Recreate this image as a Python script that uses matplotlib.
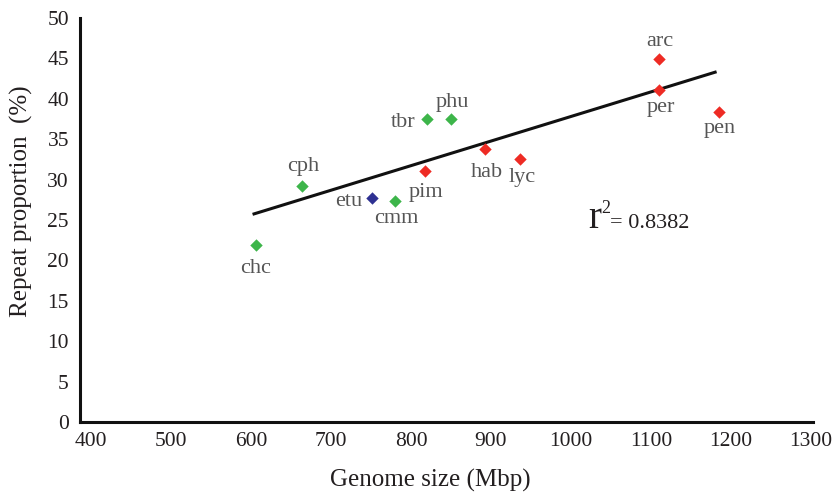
import matplotlib
matplotlib.use("Agg")
import matplotlib.pyplot as plt

names = ["chc", "cph", "etu", "cmm", "pim", "tbr", "phu", "hab", "lyc", "arc", "per", "pen"]
genome = [606, 664, 751, 780, 818, 820, 850, 892, 936, 1110, 1110, 1185]
repeat = [21.9, 29.2, 27.7, 27.4, 31.1, 37.5, 37.5, 33.8, 32.6, 44.9, 41.1, 38.4]
groups = ["g", "g", "b", "g", "r", "g", "g", "r", "r", "r", "r", "r"]
fit_x = [602, 1182]
fit_y = [25.7, 43.35]
xticks = [400, 500, 600, 700, 800, 900, 1000, 1100, 1200, 1300]
yticks = [0, 5, 10, 15, 20, 25, 30, 35, 40, 45, 50]

colors = {"g": "#3db54a", "r": "#ee2b24", "b": "#2e3192"}
# label offsets in pixels (dx, dy) to the text baseline, and horizontal alignment
offsets = {
    "chc": (0, -28, "center"),
    "cph": (1, 15, "center"),
    "etu": (-10, -8, "right"),
    "cmm": (1, -22, "center"),
    "pim": (1, -26, "center"),
    "tbr": (-12, -8, "right"),
    "phu": (1, 12, "center"),
    "hab": (2, -28, "center"),
    "lyc": (2, -23, "center"),
    "arc": (1, 13, "center"),
    "per": (2, -22, "center"),
    "pen": (1, -21, "center"),
}

W, H = 837, 493
plt.rcParams["font.family"] = ["Liberation Serif", "DejaVu Serif"]
fig = plt.figure(figsize=(W / 100, H / 100), dpi=100)
ax = fig.add_axes([80 / W, 1 - 422 / H, (813 - 80) / W, (422 - 18) / H])

ax.plot(fit_x, fit_y, color="#111111", lw=2.2, zorder=2, solid_capstyle="butt")
for n, gx, ry, g in zip(names, genome, repeat, groups):
    ax.scatter(gx, ry, marker="D", s=40, color=colors[g], zorder=3, linewidths=0)
    dx, dy, ha = offsets[n]
    ax.annotate(n, (gx, ry), xytext=(dx, dy), textcoords="offset pixels",
                ha=ha, va="baseline", fontsize=16, color="#555555")

ax.set_xlim(386.3, 1302.5)
ax.set_ylim(0, 50)
ax.set_xticks(xticks)
ax.set_yticks(yticks)
ax.tick_params(axis="both", length=0, labelsize=15.5, colors="#231f20")
ax.tick_params(axis="x", pad=7)
ax.tick_params(axis="y", pad=8)
for s in ["top", "right"]:
    ax.spines[s].set_visible(False)
for s in ["left", "bottom"]:
    ax.spines[s].set_linewidth(2.2)
    ax.spines[s].set_color("#111111")

fig.text(430 / W, 1 - 487 / H, "Genome size (Mbp)", fontsize=18, color="#231f20",
         ha="center", va="baseline")
fig.text(21 / W, 1 - 201 / H, "Repeat proportion  (%)", fontsize=18, color="#231f20",
         ha="center", va="center", rotation=90)

fig.text(588 / W, 1 - 228 / H, "r", fontsize=28, color="#231f20", ha="left", va="baseline")
fig.text(601 / W, 1 - 213 / H, "2", fontsize=13, color="#231f20", ha="left", va="baseline")
fig.text(610 / W, 1 - 228 / H, "= 0.8382", fontsize=16, color="#231f20", ha="left", va="baseline")

fig.savefig("out.png", dpi=100)
